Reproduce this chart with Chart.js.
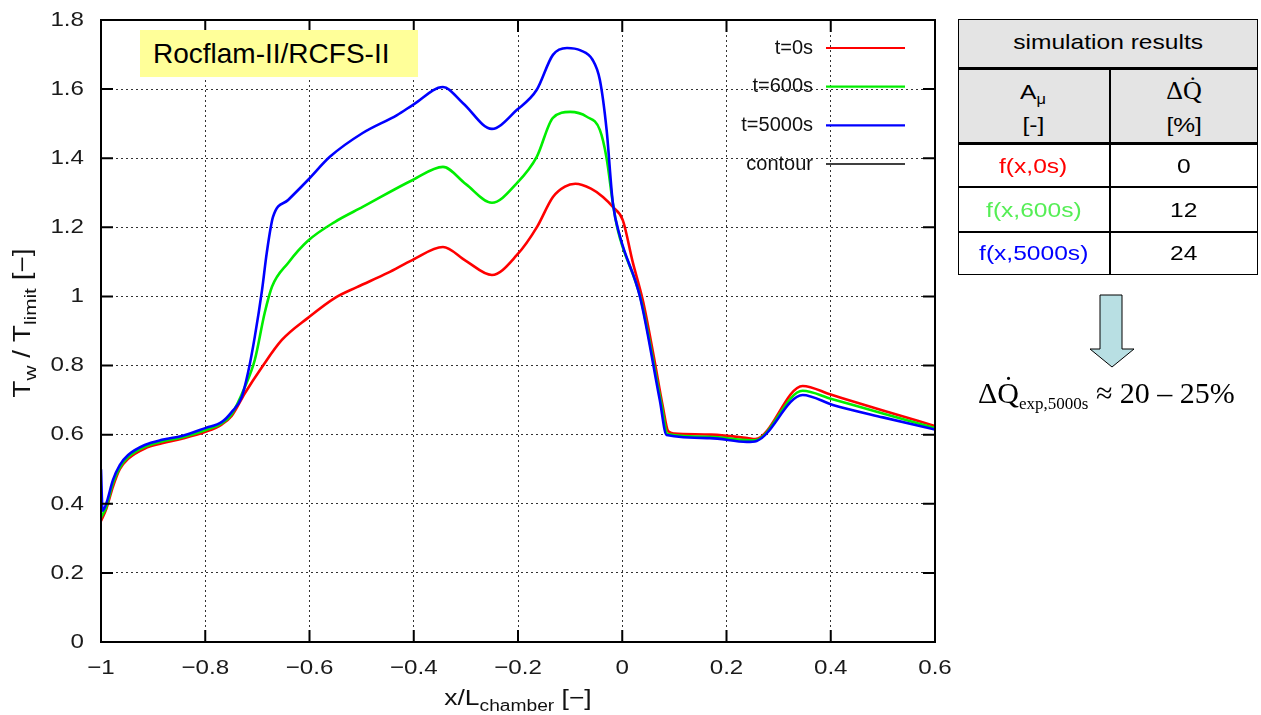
<!DOCTYPE html>
<html><head><meta charset="utf-8">
<script src="https://cdn.jsdelivr.net/npm/chart.js@4.4.1/dist/chart.umd.min.js"></script>
<style>
body{margin:0;background:#fff;width:1261px;height:715px;overflow:hidden;position:relative;font-family:"Liberation Sans",Arial,sans-serif;color:#000;}
#c{position:absolute;left:0;top:0;}
#tag{position:absolute;left:140px;top:30px;width:278px;height:47px;background:#ffff99;font-size:28px;line-height:47px;padding-left:13px;box-sizing:border-box;white-space:nowrap;}
.abs{position:absolute;}
.cell{position:absolute;text-align:center;font-size:21px;line-height:24px;white-space:nowrap;}
.cell span.s{display:inline-block;transform:scaleX(1.17);}
.serif{font-family:"Liberation Serif","Times New Roman",serif;}
</style>
</head><body>
<canvas id="c" width="960" height="715"></canvas>
<div id="tag">Rocflam-II/RCFS-II</div>

<!-- results table -->
<div class="abs" style="left:958px;top:19px;width:300px;height:125px;background:#e4e4e4;"></div>
<div class="abs" style="left:958px;top:19px;width:300px;height:256px;border:1.5px solid #000;box-sizing:border-box;"></div>
<div class="abs" style="left:958px;top:67px;width:300px;height:3px;background:#000;"></div>
<div class="abs" style="left:958px;top:142px;width:300px;height:3px;background:#000;"></div>
<div class="abs" style="left:958px;top:186px;width:300px;height:1.5px;background:#000;"></div>
<div class="abs" style="left:958px;top:231px;width:300px;height:1.5px;background:#000;"></div>
<div class="abs" style="left:1109px;top:69px;width:1.5px;height:206px;background:#000;"></div>
<div class="cell" style="left:958px;width:300px;top:30px;"><span class="s">simulation results</span></div>
<div class="cell" style="left:958px;width:151px;top:80px;"><span class="s">A<sub style="font-size:14px;vertical-align:-5px;">μ</sub></span></div>
<div class="cell" style="left:958px;width:151px;top:113px;"><span class="s">[-]</span></div>
<div class="cell serif" style="left:1110px;width:148px;top:79px;font-size:26px;">ΔQ̇</div>
<div class="cell" style="left:1110px;width:148px;top:113px;"><span class="s">[%]</span></div>
<div class="cell" style="left:958px;width:151px;top:154px;color:#ff0000;"><span class="s">f(x,0s)</span></div>
<div class="cell" style="left:1110px;width:148px;top:154px;"><span class="s">0</span></div>
<div class="cell" style="left:958px;width:151px;top:198px;color:#55ee55;"><span class="s">f(x,600s)</span></div>
<div class="cell" style="left:1110px;width:148px;top:198px;"><span class="s">12</span></div>
<div class="cell" style="left:958px;width:151px;top:241px;color:#0000ff;"><span class="s">f(x,5000s)</span></div>
<div class="cell" style="left:1110px;width:148px;top:241px;"><span class="s">24</span></div>

<svg class="abs" style="left:0;top:0;" width="1261" height="715">
<polygon points="1100,295 1122,295 1122,349 1134,349 1112,367 1090,349 1100,349" fill="#b8dfe3" stroke="#000" stroke-width="1"/>
</svg>
<div class="abs serif" style="left:978px;top:378px;font-size:30px;line-height:30px;white-space:nowrap;">ΔQ̇<span style="font-size:17px;position:relative;top:6px;">exp,5000s</span> ≈ 20 – 25%</div>

<script>
// ---- data ----
const xRed = [-1, -0.99, -0.977, -0.964, -0.948, -0.916, -0.883, -0.845, -0.80, -0.768, -0.749, -0.724, -0.691, -0.653, -0.603, -0.551, -0.509, -0.45, -0.402, -0.344, -0.30, -0.25, -0.202, -0.164, -0.133, -0.11, -0.09, -0.06, -0.037, -0.018, 0.001, 0.02, 0.04, 0.06, 0.078, 0.088, 0.10, 0.17, 0.24, 0.255, 0.346, 0.40, 0.50, 0.60];
const yRed = [0.35, 0.385, 0.45, 0.50, 0.53, 0.56, 0.575, 0.588, 0.608, 0.63, 0.655, 0.72, 0.796, 0.874, 0.938, 0.996, 1.027, 1.068, 1.106, 1.143, 1.103, 1.062, 1.12, 1.20, 1.288, 1.318, 1.326, 1.312, 1.288, 1.259, 1.221, 1.10, 0.985, 0.83, 0.68, 0.61, 0.603, 0.600, 0.590, 0.587, 0.741, 0.716, 0.67, 0.625];

const xGreen = [-1, -0.99, -0.977, -0.964, -0.948, -0.916, -0.883, -0.845, -0.80, -0.768, -0.749, -0.724, -0.705, -0.686, -0.672, -0.641, -0.603, -0.551, -0.498, -0.402, -0.344, -0.30, -0.25, -0.202, -0.164, -0.133, -0.10, -0.068, -0.043, -0.03, -0.018, -0.009, 0.036, 0.075, 0.087, 0.168, 0.245, 0.254, 0.346, 0.40, 0.50, 0.60];
const yGreen = [0.36, 0.39, 0.46, 0.505, 0.535, 0.565, 0.58, 0.592, 0.613, 0.633, 0.66, 0.738, 0.816, 0.952, 1.028, 1.097, 1.161, 1.216, 1.259, 1.337, 1.375, 1.325, 1.271, 1.328, 1.404, 1.517, 1.534, 1.52, 1.482, 1.40, 1.27, 1.195, 0.99, 0.69, 0.602, 0.594, 0.584, 0.584, 0.727, 0.704, 0.661, 0.619];

const xBlue = [-1, -0.997, -0.99, -0.977, -0.964, -0.948, -0.916, -0.883, -0.845, -0.80, -0.768, -0.749, -0.73, -0.718, -0.705, -0.691, -0.682, -0.670, -0.641, -0.603, -0.561, -0.498, -0.432, -0.40, -0.344, -0.306, -0.25, -0.202, -0.164, -0.133, -0.106, -0.08, -0.057, -0.043, -0.03, -0.018, -0.004, 0.034, 0.072, 0.085, 0.168, 0.239, 0.258, 0.346, 0.404, 0.50, 0.60];
const yBlue = [0.50, 0.38, 0.40, 0.469, 0.512, 0.541, 0.570, 0.585, 0.596, 0.619, 0.637, 0.666, 0.709, 0.779, 0.883, 1.019, 1.126, 1.23, 1.279, 1.337, 1.404, 1.473, 1.525, 1.556, 1.606, 1.56, 1.485, 1.54, 1.598, 1.699, 1.719, 1.712, 1.685, 1.627, 1.482, 1.27, 1.172, 0.999, 0.70, 0.599, 0.590, 0.579, 0.582, 0.715, 0.686, 0.650, 0.615];

const xContour = [];
const yContour = [];

const seriesLabels = ['t=0s', 't=600s', 't=5000s', 'contour'];
const xTicks = [-1, -0.8, -0.6, -0.4, -0.2, 0, 0.2, 0.4, 0.6];
const yTicks = [0, 0.2, 0.4, 0.6, 0.8, 1, 1.2, 1.4, 1.6, 1.8];

const pts = (xs, ys) => xs.map((x, i) => ({x, y: ys[i]}));
const fmt = v => { const r = Math.round(v * 10) / 10; return (r < 0 ? '\u2212' : '') + String(Math.abs(r)); };
const FONT = '"Liberation Sans", Arial, sans-serif';
const STRETCH = 1.15;

const decor = {
  id: 'decor',
  afterDraw(chart) {
    const {ctx, chartArea: a, scales: {x, y}} = chart;
    ctx.save();
    // inner ticks
    ctx.strokeStyle = '#000'; ctx.lineWidth = 2;
    ctx.beginPath();
    xTicks.forEach(v => { const p = x.getPixelForValue(v);
      ctx.moveTo(p, a.bottom); ctx.lineTo(p, a.bottom - 12);
      ctx.moveTo(p, a.top); ctx.lineTo(p, a.top + 12); });
    yTicks.forEach(v => { const p = y.getPixelForValue(v);
      ctx.moveTo(a.left, p); ctx.lineTo(a.left + 12, p);
      ctx.moveTo(a.right, p); ctx.lineTo(a.right - 12, p); });
    ctx.stroke();
    ctx.strokeRect(a.left, a.top, a.right - a.left, a.bottom - a.top);

    // tick labels
    ctx.fillStyle = '#1a1a1a'; ctx.font = '21px ' + FONT; ctx.textBaseline = 'middle';
    xTicks.forEach(v => { const p = x.getPixelForValue(v);
      ctx.save(); ctx.translate(p, a.bottom + 26); ctx.scale(STRETCH, 1);
      ctx.textAlign = 'center'; ctx.fillText(fmt(v), 0, 0); ctx.restore(); });
    yTicks.forEach(v => { const p = y.getPixelForValue(v);
      ctx.save(); ctx.translate(a.left - 17, p); ctx.scale(STRETCH, 1);
      ctx.textAlign = 'right'; ctx.fillText(fmt(v), 0, 0); ctx.restore(); });

    // legend (gnuplot style: text right-aligned, sample on the right)
    ctx.font = '20px ' + FONT; ctx.textAlign = 'right'; ctx.textBaseline = 'middle';
    chart.data.datasets.forEach((ds, i) => {
      const yy = 48 + i * 38.7;
      ctx.fillStyle = '#111';
      ctx.fillText(ds.label, 813, yy);
      ctx.strokeStyle = ds.borderColor; ctx.lineWidth = ds.label === 'contour' ? 1.5 : 2.2;
      ctx.beginPath(); ctx.moveTo(826, yy); ctx.lineTo(905, yy); ctx.stroke();
    });

    // axis titles with subscripts
    const drawParts = (parts, stretch) => {
      let w = 0;
      parts.forEach(p => { ctx.font = p.s + 'px ' + FONT; w += ctx.measureText(p.t).width; });
      ctx.scale(stretch, 1);
      let px = -w / 2;
      ctx.textAlign = 'left'; ctx.textBaseline = 'alphabetic'; ctx.fillStyle = '#111';
      parts.forEach(p => { ctx.font = p.s + 'px ' + FONT; ctx.fillText(p.t, px, p.d); px += ctx.measureText(p.t).width; });
    };
    ctx.save();
    ctx.translate((a.left + a.right) / 2, 705);
    drawParts([{t: 'x/L', s: 22, d: 0}, {t: 'chamber', s: 16, d: 6}, {t: ' [\u2212]', s: 22, d: 0}], 1.2);
    ctx.restore();
    ctx.save();
    ctx.translate(30, (a.top + a.bottom) / 2 - 8);
    ctx.rotate(-Math.PI / 2);
    drawParts([{t: 'T', s: 23, d: 0}, {t: 'w', s: 17, d: 6}, {t: ' / T', s: 23, d: 0}, {t: 'limit', s: 17, d: 6}, {t: ' [\u2212]', s: 23, d: 0}], 1.22);
    ctx.restore();
    ctx.restore();
  }
};

const gridStyle = {color: '#333', lineWidth: 1, drawTicks: false};
new Chart(document.getElementById('c'), {
  type: 'line',
  data: {
    datasets: [
      {label: seriesLabels[0], data: pts(xRed, yRed), borderColor: '#ff0000', order: 2},
      {label: seriesLabels[1], data: pts(xGreen, yGreen), borderColor: '#00ee00', order: 1},
      {label: seriesLabels[2], data: pts(xBlue, yBlue), borderColor: '#0000ff', order: 0},
      {label: seriesLabels[3], data: pts(xContour, yContour), borderColor: '#000000', order: 3}
    ]
  },
  options: {
    responsive: false, animation: false, devicePixelRatio: 1,
    layout: {padding: {top: 20, right: 25, left: 0, bottom: 0}},
    elements: {point: {radius: 0}, line: {borderWidth: 2.6, cubicInterpolationMode: 'monotone'}},
    plugins: {legend: {display: false}, tooltip: {enabled: false}},
    scales: {
      x: {type: 'linear', min: -1, max: 0.6,
        afterBuildTicks: s => { s.ticks = xTicks.map(v => ({value: v})); },
        afterFit: s => { s.height = 73; s.paddingLeft = 0; s.paddingRight = 0; },
        grid: gridStyle, border: {display: false, dash: [2, 3]},
        ticks: {display: false}},
      y: {type: 'linear', min: 0, max: 1.8,
        afterBuildTicks: s => { s.ticks = yTicks.map(v => ({value: v})); },
        afterFit: s => { s.width = 101; s.paddingTop = 0; s.paddingBottom = 0; },
        grid: gridStyle, border: {display: false, dash: [2, 3]},
        ticks: {display: false}}
    }
  },
  plugins: [decor]
});
</script>
</body></html>
